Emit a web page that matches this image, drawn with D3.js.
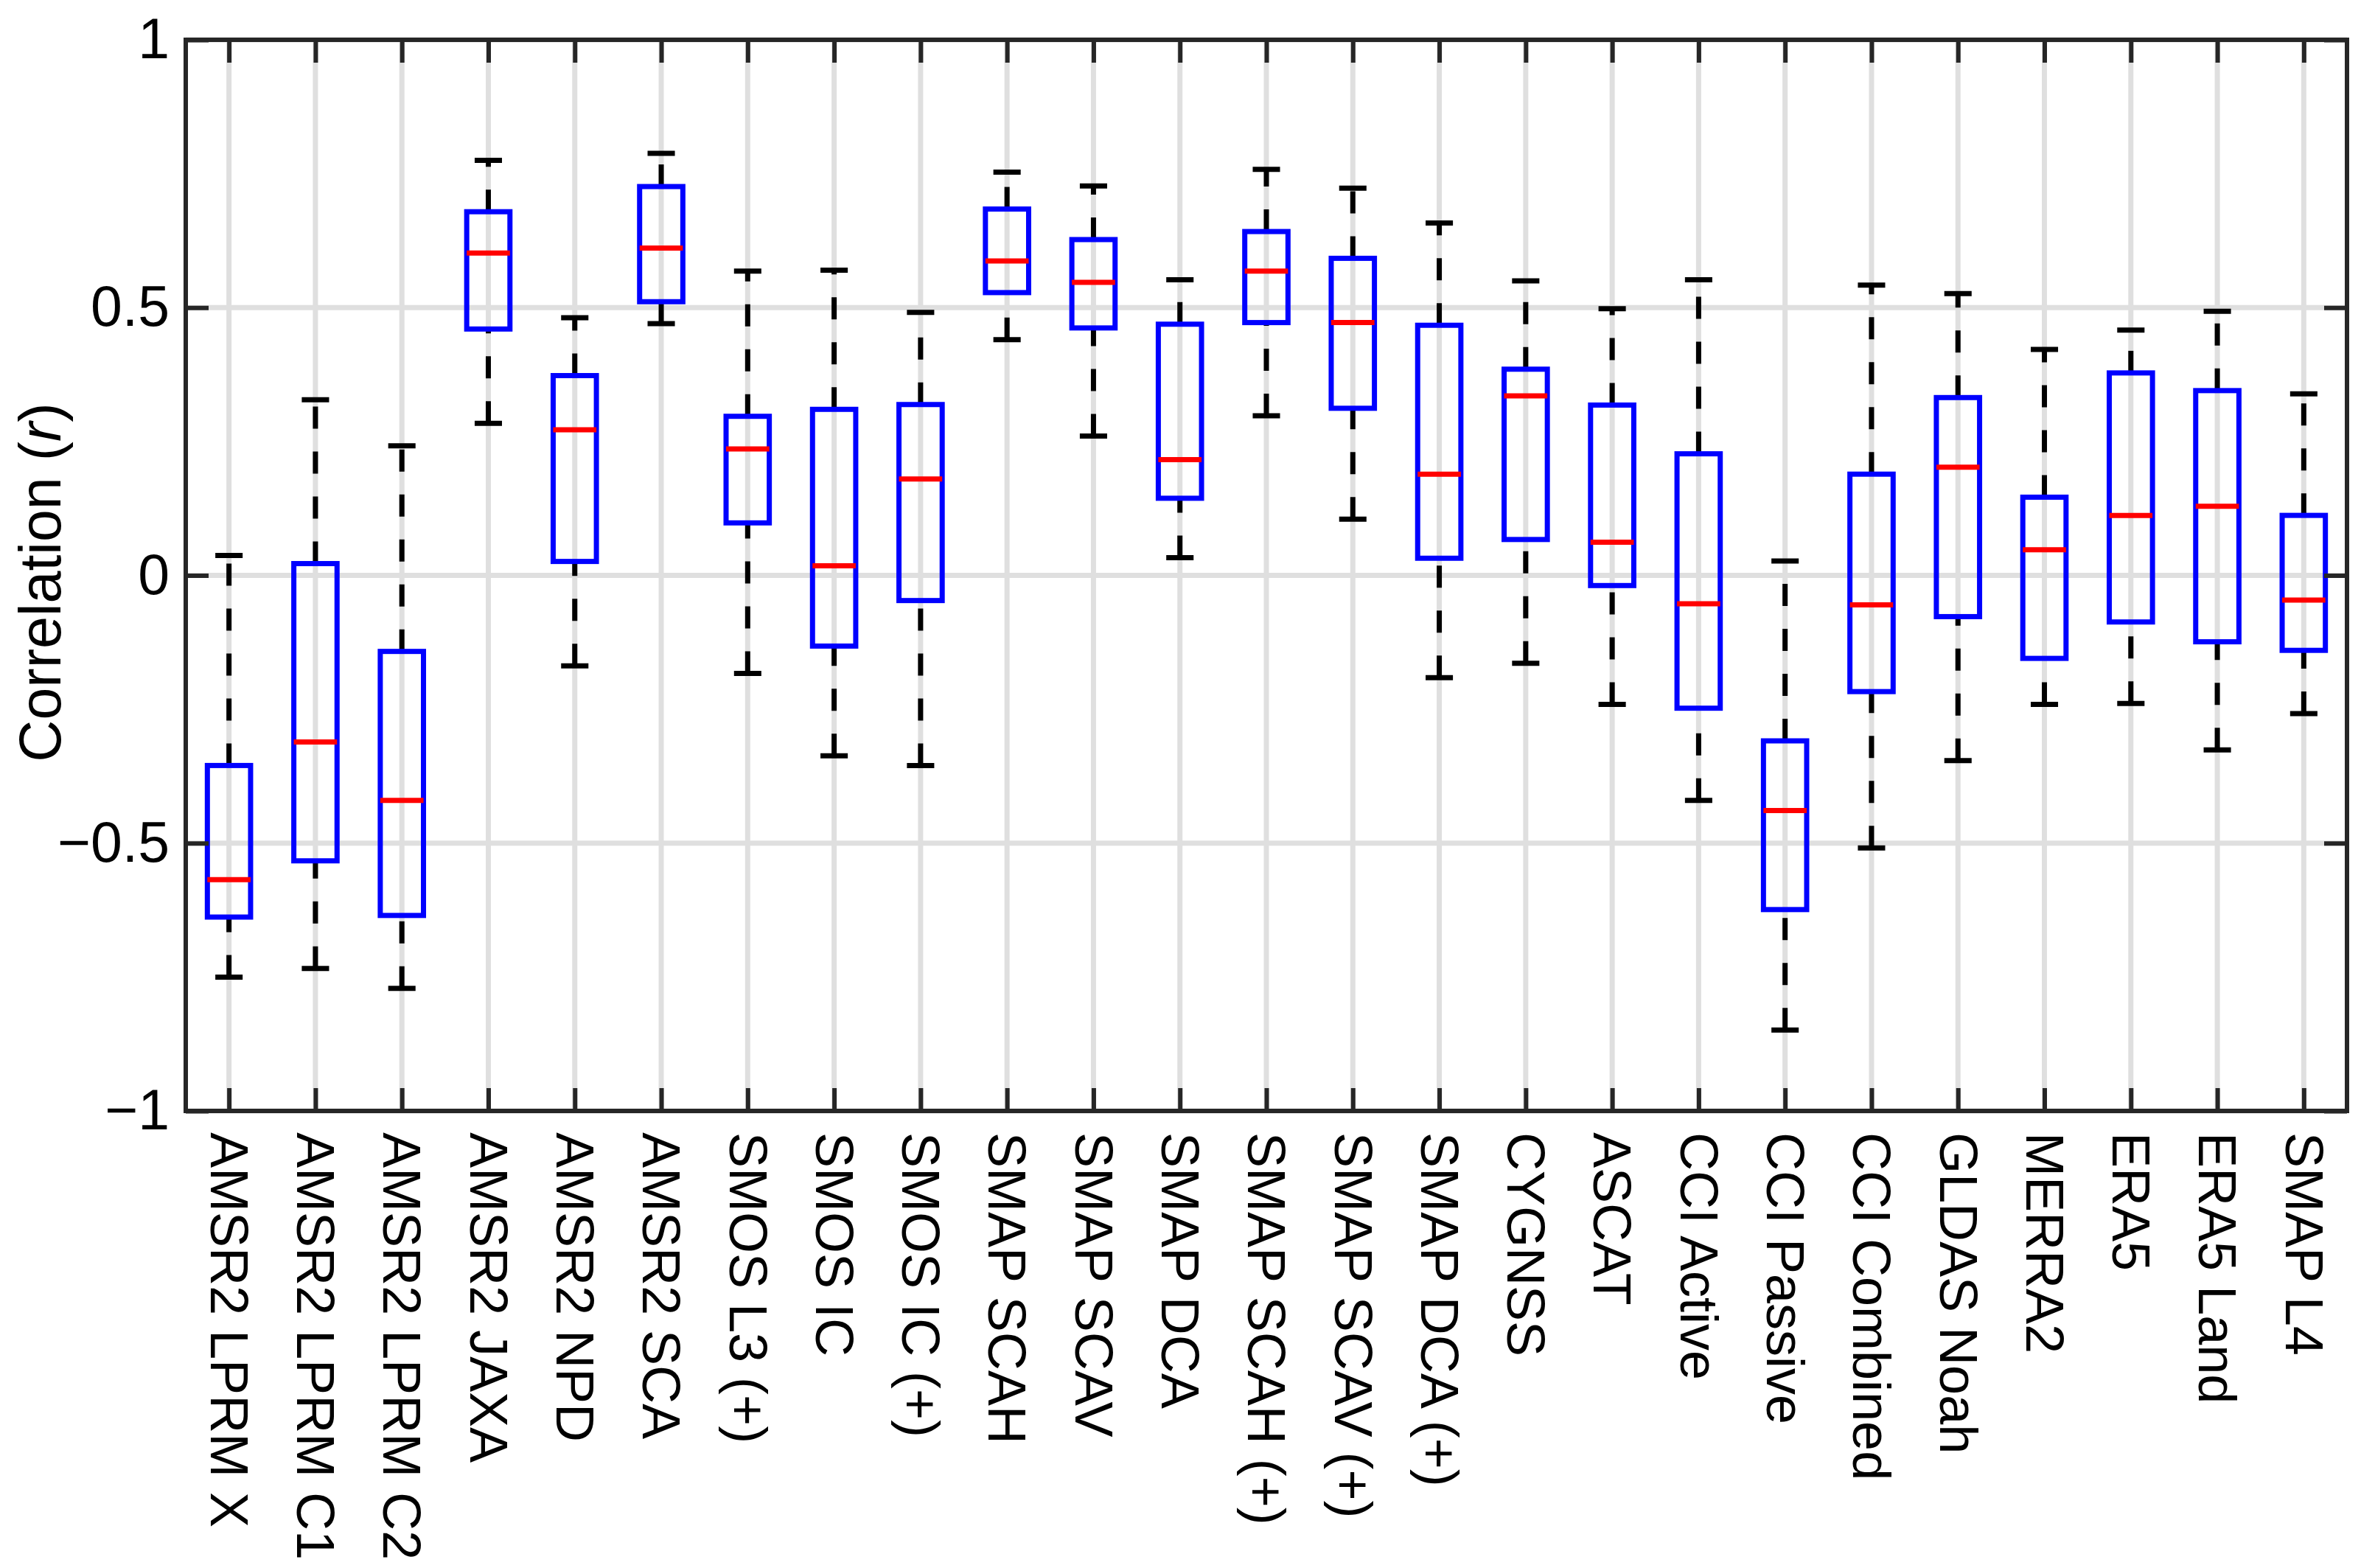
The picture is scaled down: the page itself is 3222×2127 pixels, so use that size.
<!DOCTYPE html>
<html>
<head><title>Correlation boxplot</title></head>
<body>
<style>
  body { margin:0; background:#fff; }
  text { font-family: "Liberation Sans", Arial, Helvetica, sans-serif; fill:#000; }
</style>
<svg id="chart"></svg>
<script src="https://d3js.org/d3.v7.min.js"></script>
<script>

let categories = ['AMSR2 LPRM X', 'AMSR2 LPRM C1', 'AMSR2 LPRM C2', 'AMSR2 JAXA', 'AMSR2 NPD',
  'AMSR2 SCA', 'SMOS L3 (+)', 'SMOS IC', 'SMOS IC (+)', 'SMAP SCAH', 'SMAP SCAV', 'SMAP DCA',
  'SMAP SCAH (+)', 'SMAP SCAV (+)', 'SMAP DCA (+)', 'CYGNSS', 'ASCAT', 'CCI Active', 'CCI Passive',
  'CCI Combined', 'GLDAS Noah', 'MERRA2', 'ERA5', 'ERA5 Land', 'SMAP L4'];

// box statistics
let upperWhisker = [0.037, 0.328, 0.242, 0.775, 0.481, 0.788, 0.568, 0.570, 0.491, 0.753, 0.727, 0.552,
  0.758, 0.723, 0.658, 0.550, 0.498, 0.552, 0.027, 0.542, 0.526, 0.422, 0.458, 0.493, 0.339];
let q3 = [-0.355, 0.022, -0.142, 0.679, 0.373, 0.726, 0.297, 0.310, 0.319, 0.684, 0.627, 0.469,
  0.642, 0.592, 0.467, 0.385, 0.318, 0.227, -0.309, 0.189, 0.332, 0.146, 0.378, 0.345, 0.112];
let medians = [-0.568, -0.311, -0.420, 0.602, 0.272, 0.611, 0.236, 0.018, 0.180, 0.587, 0.547, 0.216,
  0.568, 0.472, 0.189, 0.335, 0.062, -0.053, -0.439, -0.055, 0.202, 0.048, 0.112, 0.129, -0.046];
let q1 = [-0.638, -0.533, -0.635, 0.460, 0.026, 0.511, 0.098, -0.132, -0.047, 0.528, 0.462, 0.144,
  0.472, 0.312, 0.032, 0.067, -0.019, -0.248, -0.624, -0.217, -0.077, -0.155, -0.087, -0.124, -0.140];
let lowerWhisker = [-0.750, -0.734, -0.771, 0.284, -0.169, 0.470, -0.183, -0.337, -0.355, 0.440, 0.260, 0.033,
  0.298, 0.105, -0.191, -0.164, -0.241, -0.420, -0.849, -0.509, -0.346, -0.241, -0.239, -0.326, -0.258];

let yTicks = [-1, -0.5, 0, 0.5, 1];
let yTickLabels = ['\u22121', '\u22120.5', '0', '0.5', '1'];

let width = 3222, height = 2127;
let plotLeft = 252, plotRight = 3184, plotTop = 54, plotBottom = 1507;
let axisColor = '#262626';
let lw = 7;

let svg = d3.select('#chart').attr('width', width).attr('height', height);
svg.append('rect').attr('width', width).attr('height', height).attr('fill', '#fff');

let x = d3.scaleLinear().domain([0.5, categories.length + 0.5]).range([plotLeft, plotRight]);
let y = d3.scaleLinear().domain([-1, 1]).range([plotBottom, plotTop]);
let idx = d3.range(1, categories.length + 1);

function translate(a, b) { return 'translate(' + a + ',' + b + ')'; }

// grid
let grid = svg.append('g');
grid.selectAll('line.vg').data(idx).enter().append('line')
  .attr('x1', d => x(d)).attr('x2', d => x(d)).attr('y1', plotTop).attr('y2', plotBottom)
  .attr('stroke', '#dfdfdf').attr('stroke-width', lw);
grid.selectAll('line.hg').data(yTicks).enter().append('line')
  .attr('x1', plotLeft).attr('x2', plotRight).attr('y1', d => y(d)).attr('y2', d => y(d))
  .attr('stroke', '#dfdfdf').attr('stroke-width', lw);

// boxes
let bw = x(1.25) - x(1);
let cw = x(1.158) - x(1);
let boxes = svg.append('g').selectAll('g').data(idx).enter().append('g');

// whiskers run from the lower value up to the higher one, so the dash phase matches
boxes.append('line')
  .attr('x1', d => x(d)).attr('x2', d => x(d))
  .attr('y1', d => y(q3[d - 1])).attr('y2', d => y(upperWhisker[d - 1]))
  .attr('stroke', '#000').attr('stroke-width', lw).attr('stroke-dasharray', '30,31');
boxes.append('line')
  .attr('x1', d => x(d)).attr('x2', d => x(d))
  .attr('y1', d => y(lowerWhisker[d - 1])).attr('y2', d => y(q1[d - 1]))
  .attr('stroke', '#000').attr('stroke-width', lw).attr('stroke-dasharray', '30,31');
boxes.append('line')
  .attr('x1', d => x(d) - cw).attr('x2', d => x(d) + cw)
  .attr('y1', d => y(upperWhisker[d - 1])).attr('y2', d => y(upperWhisker[d - 1]))
  .attr('stroke', '#000').attr('stroke-width', lw);
boxes.append('line')
  .attr('x1', d => x(d) - cw).attr('x2', d => x(d) + cw)
  .attr('y1', d => y(lowerWhisker[d - 1])).attr('y2', d => y(lowerWhisker[d - 1]))
  .attr('stroke', '#000').attr('stroke-width', lw);
boxes.append('rect')
  .attr('x', d => x(d) - bw).attr('width', 2 * bw)
  .attr('y', d => y(q3[d - 1])).attr('height', d => y(q1[d - 1]) - y(q3[d - 1]))
  .attr('fill', 'none').attr('stroke', '#0000ff').attr('stroke-width', lw);
boxes.append('line')
  .attr('x1', d => x(d) - bw).attr('x2', d => x(d) + bw)
  .attr('y1', d => y(medians[d - 1])).attr('y2', d => y(medians[d - 1]))
  .attr('stroke', '#ff0000').attr('stroke-width', lw);

// axes
let tickLen = 31;
let yAxis = svg.append('g').attr('transform', translate(plotLeft, 0))
  .call(d3.axisLeft(y).tickValues(yTicks).tickFormat((d, i) => yTickLabels[i]).tickSize(-tickLen).tickPadding(22));
svg.append('g').attr('transform', translate(plotRight, 0))
  .call(d3.axisRight(y).tickValues(yTicks).tickFormat('').tickSize(-tickLen));
let xAxis = svg.append('g').attr('transform', translate(0, plotBottom))
  .call(d3.axisBottom(x).tickValues(idx).tickFormat(d => categories[d - 1]).tickSize(-tickLen));
svg.append('g').attr('transform', translate(0, plotTop))
  .call(d3.axisTop(x).tickValues(idx).tickFormat('').tickSize(-tickLen));

svg.selectAll('.domain').remove();
svg.selectAll('.tick line').attr('stroke', axisColor).attr('stroke-width', 6);
svg.append('rect').attr('x', plotLeft).attr('y', plotTop)
  .attr('width', plotRight - plotLeft).attr('height', plotBottom - plotTop)
  .attr('fill', 'none').attr('stroke', axisColor).attr('stroke-width', 6);

yAxis.selectAll('text').style('font-size', '77px').attr('fill', '#000');
xAxis.selectAll('text')
  .style('font-size', '72px').attr('fill', '#000')
  .attr('transform', 'rotate(90)')
  .attr('x', 29).attr('y', 0).attr('dy', '0.35em')
  .style('text-anchor', 'start');

let yl = svg.append('text')
  .attr('transform', translate(82, 790) + ' rotate(-90)')
  .attr('text-anchor', 'middle')
  .style('font-size', '79px');
yl.append('tspan').text('Correlation (');
yl.append('tspan').style('font-style', 'italic').text('r');
yl.append('tspan').text(')');

</script>
</body>
</html>
